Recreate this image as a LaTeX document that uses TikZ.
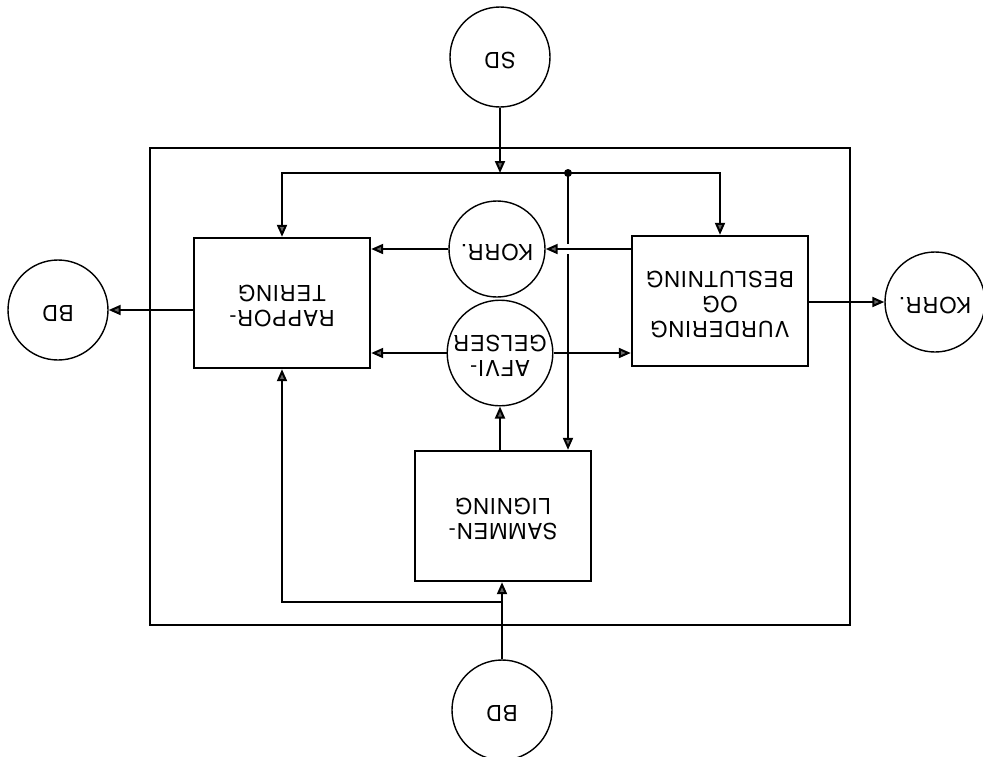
\documentclass[tikz,border=0pt]{standalone}
\usepackage{fontspec}
\setmainfont{TeX Gyre Heros}[LetterSpace=4]
\usetikzlibrary{positioning,arrows.meta}

% text set upside down, as in the scan
\newcommand{\vendt}[1]{\rotatebox{180}{\begin{tabular}{@{}c@{}}#1\end{tabular}}}

\begin{document}
\begin{tikzpicture}[
  x = 0.5pt, y = -0.5pt,
  every node/.style = {align=center, font=\fontsize{11}{12.5}\selectfont},
  blok/.style = {draw, line width=1.2pt, minimum width=88pt, minimum height=65pt, inner sep=0pt},
  kreds/.style = {draw, circle, line width=0.7pt, minimum size=50pt, inner sep=0pt},
  lille/.style = {kreds, minimum size=48pt},
  over/.style = {preaction={draw=white, line width=5pt, -, shorten <=8pt, shorten >=8pt}},
  >={Triangle[length=6pt,width=5pt,fill=black!60]},
  line width=1pt
]
  \useasboundingbox (0,0) rectangle (983,756);
  \draw[line width=1.2pt] (150,148) rectangle (850,625);

  \node[kreds] (sd) at (500,57) {\vendt{SD}};
  \node[blok] (rapp) at (282,303) {\vendt{RAPPOR-\\TERING}};
  \node[blok] (vurd) at (720,301) {\vendt{VURDERING\\OG\\BESLUTNING}};
  \node[lille] (korr) at (497,249) {\vendt{KORR.}};
  \node[lille] (afv) at (500,353) {\vendt{AFVI-\\GELSER}};
  \node[blok] (samm) at (503,516) {\vendt{SAMMEN-\\LIGNING}};
  \node[kreds] (bdb) at (502,710) {\vendt{BD}};
  \node[kreds] (bdl) at (58,310) {\vendt{BD}};
  \node[kreds] (korrr) at (935,302) {\vendt{KORR.}};

  \coordinate (dot) at (568,173);
  \coordinate (br) at (502,602);
  \fill (dot) circle (2pt);

  \draw[->] (sd) -- (sd |- dot);
  \draw[->] (dot) -| (rapp.north);
  \draw[->] (dot) -| (vurd.north);
  \draw[->] (dot) -- (dot |- samm.north);

  \draw[->,over] (vurd.west |- korr) -- (korr);
  \draw[->] (korr) -- (rapp.east |- korr);
  \draw[->,over] (afv) -- (vurd.west |- afv);
  \draw[->] (afv) -- (rapp.east |- afv);
  \draw[->] (samm.north -| afv) -- (afv);

  \draw[->] (bdb) -- (samm.south -| bdb);
  \draw[->] (br) -| (rapp.south);
  \draw[->] (rapp.west |- bdl) -- (bdl);
  \draw[->] (vurd.east |- korrr) -- (korrr);
\end{tikzpicture}
\end{document}
